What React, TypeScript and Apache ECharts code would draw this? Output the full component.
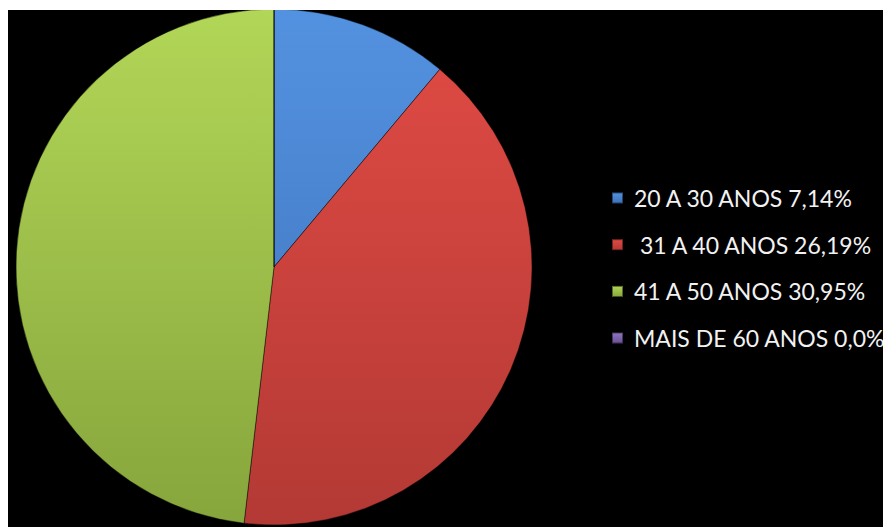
import React, { useEffect, useRef } from "react";
import * as echarts from "echarts";

const categories = ["20 A 30 ANOS", " 31 A 40 ANOS", "41 A 50 ANOS", "MAIS DE 60 ANOS"];
const values = [7.14, 26.19, 30.95, 0.0];
const percentLabels = ["7,14%", "26,19%", "30,95%", "0,0%"];
const topColors = ["#5392e0", "#e24b45", "#b2d657", "#9077c0"];
const bottomColors = ["#3d70b8", "#b33934", "#86a53c", "#6a4f95"];

function grad(i: number, global: boolean) {
  return global
    ? new echarts.graphic.LinearGradient(0, 0, 0, 517, [
        { offset: 0, color: topColors[i] },
        { offset: 1, color: bottomColors[i] },
      ], true)
    : new echarts.graphic.LinearGradient(0, 0, 0, 1, [
        { offset: 0, color: topColors[i] },
        { offset: 1, color: bottomColors[i] },
      ]);
}

export default function App() {
  const ref = useRef<HTMLDivElement>(null);
  useEffect(() => {
    if (!ref.current) return;
    const chart = echarts.init(ref.current, undefined, { renderer: "svg" });
    chart.setOption({
      animation: false,
      backgroundColor: "#000000",
      legend: {
        orient: "vertical",
        left: 598,
        top: 171,
        itemWidth: 11,
        itemHeight: 11,
        itemGap: 22.7,
        icon: "rect",
        data: categories.map((c, i) => ({
          name: c,
          itemStyle: { color: grad(i, false) },
        })),
        formatter: (name: string) => {
          const i = categories.indexOf(name);
          return name + " " + percentLabels[i];
        },
        textStyle: {
          color: "#f2f2f2",
          fontFamily: "Lato",
          fontSize: 23,
          lineHeight: 24,
          padding: [0, 0, 0, 6],
        },
      },
      series: [
        {
          type: "pie",
          center: [266, 257],
          radius: 258,
          startAngle: 90,
          clockwise: true,
          label: { show: false },
          labelLine: { show: false },
          emphasis: { disabled: true },
          itemStyle: { borderColor: "rgba(0,0,0,0.45)", borderWidth: 1 },
          data: categories.map((c, i) => ({
            name: c,
            value: values[i],
            itemStyle: { color: grad(i, true) },
          })),
        },
      ],
    });
    return () => chart.dispose();
  }, []);
  return (
    <div
      ref={ref}
      style={{ width: 883, height: 519, position: "relative", top: 2, background: "#000" }}
    />
  );
}
